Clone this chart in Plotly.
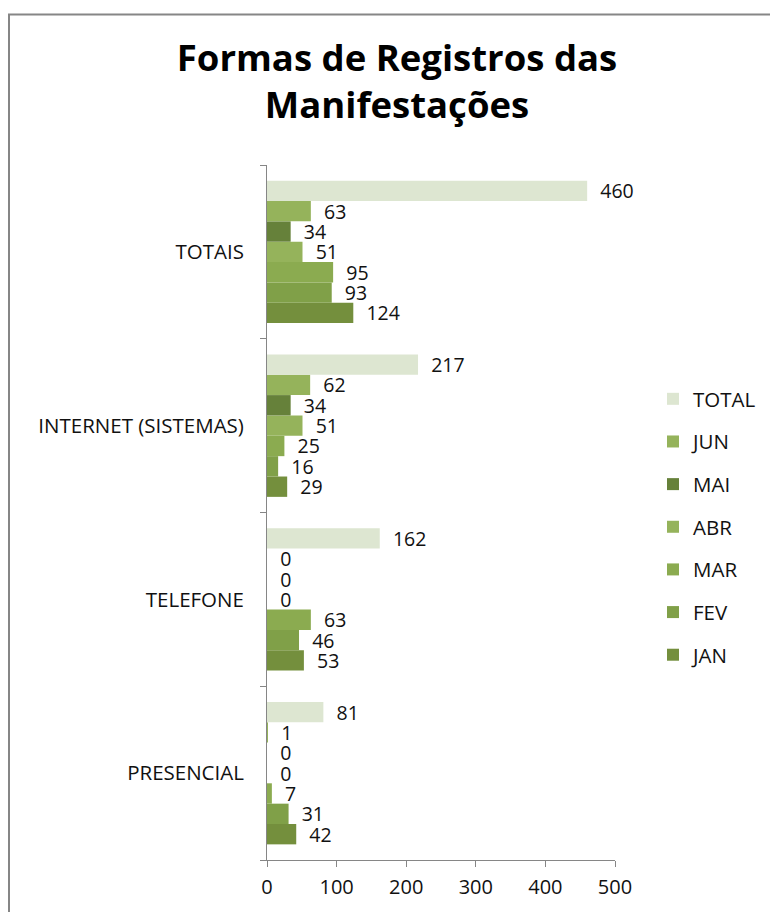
import plotly.graph_objects as go

categories = ["PRESENCIAL", "TELEFONE", "INTERNET (SISTEMAS)", "TOTAIS"]
series_names = ["JAN", "FEV", "MAR", "ABR", "MAI", "JUN", "TOTAL"]
jan = [42, 53, 29, 124]
fev = [31, 46, 16, 93]
mar = [7, 63, 25, 95]
abr = [0, 0, 51, 51]
mai = [0, 0, 34, 34]
jun = [1, 0, 62, 63]
total = [81, 162, 217, 460]
series_values = [jan, fev, mar, abr, mai, jun, total]
colors = ["#748F3D", "#80A048", "#8BAB50", "#95B35B", "#66813A", "#95B35B", "#DDE6D1"]
x_ticks = [0, 100, 200, 300, 400, 500]

FONT = "'Open Sans', sans-serif"

fig = go.Figure()
n = len(series_names)
for i, (name, vals, col) in enumerate(zip(series_names, series_values, colors)):
    fig.add_trace(go.Bar(
        y=categories, x=vals, name=name, orientation="h",
        marker=dict(color=col, line=dict(width=0)),
        text=vals, texttemplate="  %{x}", textposition="outside",
        constraintext="none",
        textfont=dict(size=19.5, color="#111111", family=FONT),
        cliponaxis=False, legendgroup=name, legendrank=n - i,
    ))

L, R, T, B = 267, 155, 165, 52
W, H = 770, 912
pw = W - L - R
ph = H - T - B

def px_to_paper_x(px):
    return (px - L) / pw

def px_to_paper_y(py):
    return (H - B - py) / ph

fig.update_layout(
    width=W, height=H,
    margin=dict(l=L, r=R, t=T, b=B, autoexpand=False),
    paper_bgcolor="white", plot_bgcolor="white",
    barmode="group", bargap=0.18, bargroupgap=0,
    font=dict(family=FONT, color="#111111"),
    title=dict(text="<b>Formas de Registros das<br>Manifestações</b>",
               x=397 / W, xanchor="center", xref="container",
               y=(H - 71) / H, yanchor="top",
               font=dict(size=36.5, family=FONT, color="#000000")),
    legend=dict(x=px_to_paper_x(653), xanchor="left",
                y=px_to_paper_y(527), yanchor="middle",
                traceorder="grouped", tracegroupgap=13,
                font=dict(size=20.5, family=FONT, color="#111111"),
                bgcolor="rgba(0,0,0,0)"),
    xaxis=dict(range=[0, 500], tickvals=x_ticks, showgrid=False, zeroline=False,
               showline=True, linecolor="#868686", linewidth=1,
               ticks="outside", ticklen=6, tickcolor="#868686",
               tickfont=dict(size=20, family=FONT, color="#111111"),
               ticklabelstandoff=3),
    yaxis=dict(showgrid=False, zeroline=False, showline=True,
               linecolor="#868686", linewidth=1, ticks="outside", ticklen=6,
               tickcolor="#868686", tickson="boundaries",
               tickfont=dict(size=20.5, family=FONT, color="#111111"),
               ticklabelstandoff=18),
    shapes=[dict(type="rect", xref="paper", yref="paper",
                 x0=px_to_paper_x(9), x1=px_to_paper_x(800),
                 y0=px_to_paper_y(940), y1=px_to_paper_y(14.5),
                 line=dict(color="#868686", width=2), layer="below")],
)

fig.write_html("out.html")
